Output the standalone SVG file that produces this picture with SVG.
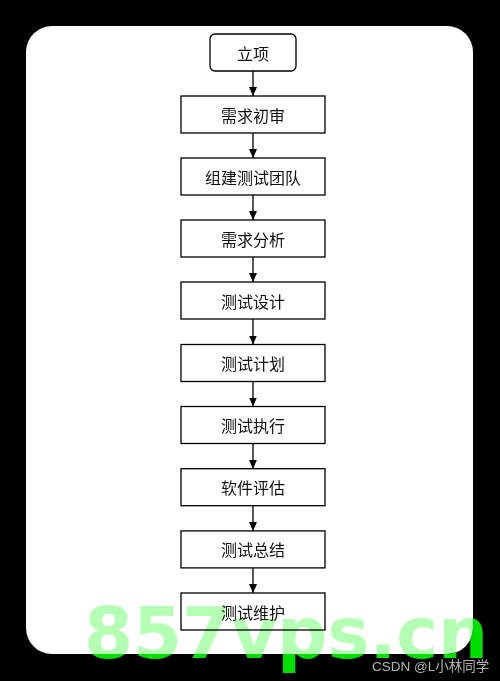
<svg xmlns="http://www.w3.org/2000/svg" width="500" height="681" viewBox="0 0 500 681">
<style>
.box{fill:#fff;stroke:#000;stroke-width:1.3}
.lbl{font-family:"Noto Sans CJK SC","Liberation Sans",sans-serif;font-size:16px;fill:#111;text-anchor:middle;dominant-baseline:central}
.con{stroke:#000;stroke-width:1.3;fill:none}
.wm{font-family:"DejaVu Sans",sans-serif;font-weight:bold;font-size:70.5px}
</style>
<defs>
<marker id="arr" viewBox="0 0 10 10" refX="10" refY="5" markerWidth="9" markerHeight="8" markerUnits="userSpaceOnUse" orient="auto" preserveAspectRatio="none">
<path d="M0,0 L10,5 L0,10 z" fill="#000"/>
</marker>
<clipPath id="card"><rect x="26" y="26" width="447" height="628" rx="26"/></clipPath>
<clipPath id="outside"><path clip-rule="evenodd" d="M0,0 H500 V681 H0 Z M52,26 H447 A26,26 0 0 1 473,52 V628 A26,26 0 0 1 447,654 H52 A26,26 0 0 1 26,628 V52 A26,26 0 0 1 52,26 Z"/></clipPath>
</defs>
<rect width="500" height="681" fill="#000"/>
<rect x="26" y="26" width="447" height="628" rx="26" fill="#fff"/>
<g id="connectors">
<line class="con" x1="253" y1="71" x2="253" y2="96" marker-end="url(#arr)"/>
<line class="con" x1="253" y1="133" x2="253" y2="158" marker-end="url(#arr)"/>
<line class="con" x1="253" y1="195" x2="253" y2="220" marker-end="url(#arr)"/>
<line class="con" x1="253" y1="257" x2="253" y2="282" marker-end="url(#arr)"/>
<line class="con" x1="253" y1="319" x2="253" y2="344.5" marker-end="url(#arr)"/>
<line class="con" x1="253" y1="381.5" x2="253" y2="406.5" marker-end="url(#arr)"/>
<line class="con" x1="253" y1="443.5" x2="253" y2="468.7" marker-end="url(#arr)"/>
<line class="con" x1="253" y1="505.7" x2="253" y2="530.9" marker-end="url(#arr)"/>
<line class="con" x1="253" y1="567.9" x2="253" y2="593" marker-end="url(#arr)"/>
</g>
<g id="n0"><rect class="box" x="210" y="34" width="86" height="37" rx="5"/><text class="lbl" x="253" y="52.5">立项</text></g>
<g id="n1"><rect class="box" x="181" y="96" width="144" height="37"/><text class="lbl" x="253" y="114.5">需求初审</text></g>
<g id="n2"><rect class="box" x="181" y="158" width="144" height="37"/><text class="lbl" x="253" y="176.5">组建测试团队</text></g>
<g id="n3"><rect class="box" x="181" y="220" width="144" height="37"/><text class="lbl" x="253" y="238.5">需求分析</text></g>
<g id="n4"><rect class="box" x="181" y="282" width="144" height="37"/><text class="lbl" x="253" y="300.5">测试设计</text></g>
<g id="n5"><rect class="box" x="181" y="344.5" width="144" height="37"/><text class="lbl" x="253" y="363">测试计划</text></g>
<g id="n6"><rect class="box" x="181" y="406.5" width="144" height="37"/><text class="lbl" x="253" y="425">测试执行</text></g>
<g id="n7"><rect class="box" x="181" y="468.7" width="144" height="37"/><text class="lbl" x="253" y="487.2">软件评估</text></g>
<g id="n8"><rect class="box" x="181" y="530.9" width="144" height="37"/><text class="lbl" x="253" y="549.4">测试总结</text></g>
<g id="n9"><rect class="box" x="181" y="593" width="144" height="37"/><text class="lbl" x="253" y="611.5">测试维护</text></g>
<g id="watermark">
<text class="wm" x="84" y="658" fill="#00e000" clip-path="url(#outside)">857vps.cn</text>
<text class="wm" x="84" y="658" fill="#b4ffb4" clip-path="url(#card)" style="mix-blend-mode:multiply">857vps.cn</text>
<text x="372" y="671" font-family="'Liberation Sans','Noto Sans CJK SC',sans-serif" font-size="13.5" fill="#d0d0d0" fill-opacity="0.85">CSDN @L小林同学</text>
</g>
</svg>
